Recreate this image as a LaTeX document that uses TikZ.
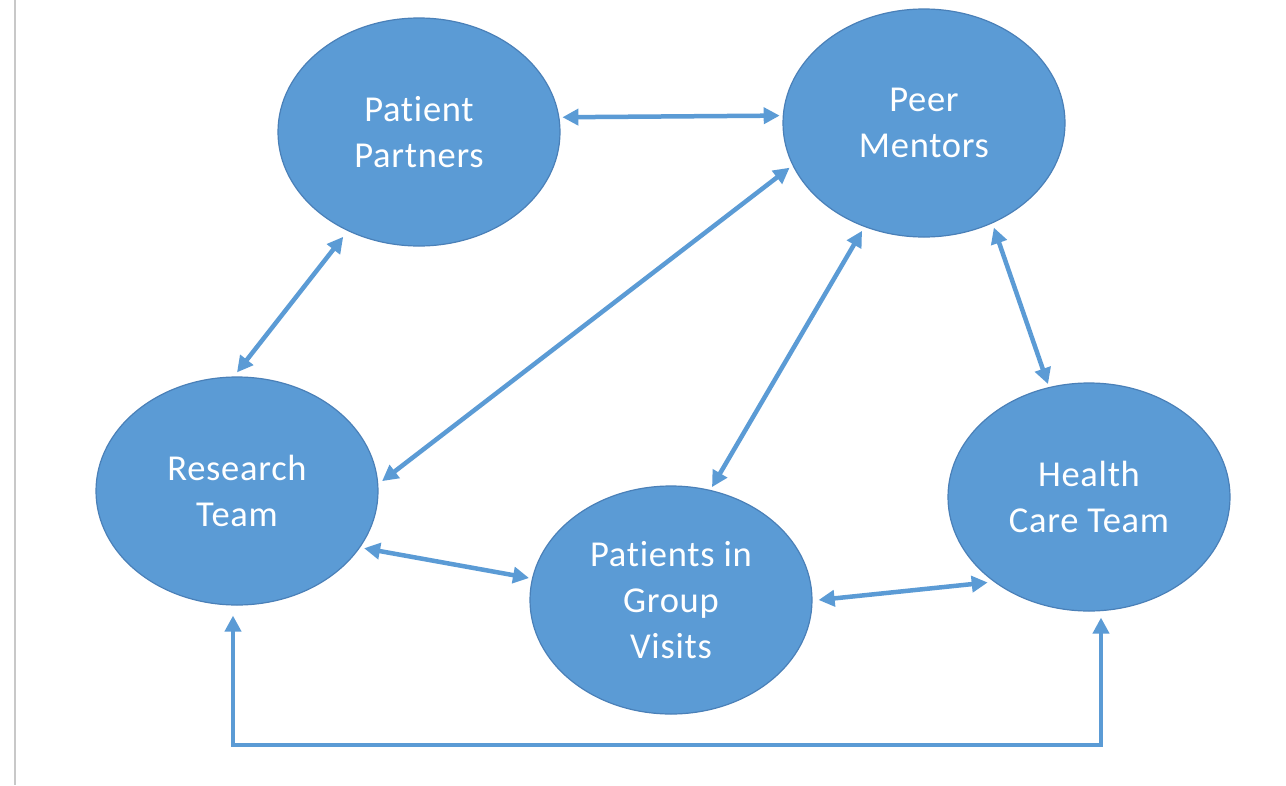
\documentclass[tikz,border=0pt]{standalone}
\usepackage{fontspec}
\setmainfont[Ligatures=NoCommon]{Carlito}
\usetikzlibrary{shapes.geometric,arrows.meta}
\definecolor{bubble}{HTML}{5B9BD5}
\definecolor{bubbleedge}{HTML}{4A80B8}
\definecolor{frameline}{HTML}{C8C8C8}
\tikzset{
  bubble/.style={ellipse, fill=bubble, draw=bubbleedge, line width=1.2pt,
    minimum width=282pt, minimum height=228pt, inner sep=0pt,
    text=white, align=center,
    font=\addfontfeatures{LetterSpace=2}\fontsize{36.5}{46}\selectfont},
  link/.style={draw=bubble, line width=4.5pt,
    {Triangle[length=16pt,width=16pt]}-{Triangle[length=16pt,width=16pt]}}
}
\begin{document}
\begin{tikzpicture}[x=1pt,y=-1pt]
  \useasboundingbox[fill=white] (0,0) rectangle (1286,785);
  % page edge on the left
  \draw[frameline, line width=1.5pt] (15,0) -- (15,785);

  % the five groups
  \node[bubble] (pp)  at (419,132) {Patient\\Partners};
  \node[bubble] (pm)  at (924,123) {Peer\\Mentors};
  \node[bubble] (rt)  at (237,491) {Research\\Team};
  \node[bubble] (hct) at (1089,497) {Health\\Care Team};
  \node[bubble] (pgv) at (671,600) {Patients in\\Group\\Visits};

  % two-way links between the groups
  \draw[link] ([xshift=3pt]pp.6) -- ([xshift=-3pt]pm.177);
  \draw[link] ([shift={(-4pt,-6pt)}]pp.234) -- ([yshift=4pt]rt.90);
  \draw[link] ([shift={(-3pt,-2pt)}]pm.198) -- ([xshift=4pt]rt.4);
  \draw[link] ([shift={(-2pt,-4pt)}]pm.240) -- ([shift={(1pt,3pt)}]pgv.70);
  \draw[link] ([shift={(2pt,-4pt)}]pm.304) -- ([shift={(-1pt,3pt)}]hct.110);
  \draw[link] ([shift={(3pt,-2pt)}]rt.336) -- ([xshift=-3pt]pgv.171);
  \draw[link] ([xshift=6pt]pgv.0) -- ([shift={(-3pt,-3pt)}]hct.220);

  % long link under the middle
  \coordinate (base) at (0,745);
  \draw[link] ([shift={(-4pt,-10pt)}]rt.south)
      -- ([xshift=-4pt]rt.south |- base)
      -- ([xshift=12pt]hct.south |- base)
      -- ([shift={(12pt,-6pt)}]hct.south);
\end{tikzpicture}
\end{document}
